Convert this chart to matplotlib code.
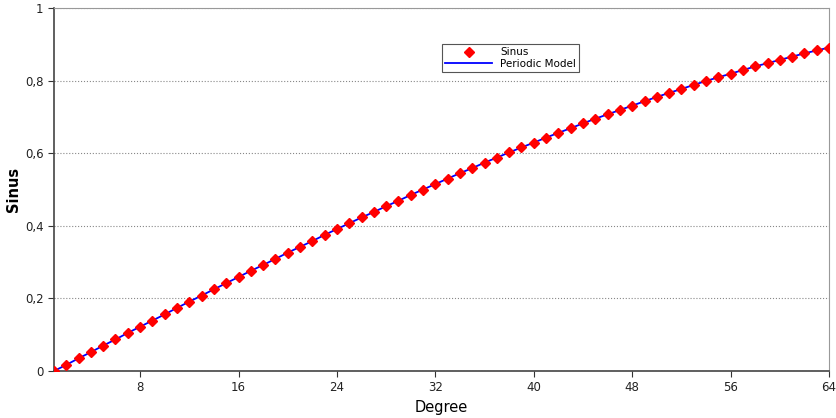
import numpy as np
import matplotlib.pyplot as plt

# categorias 1..64 y valores
grados = list(range(1, 65))
sinus = [0.000, 0.017, 0.035, 0.052, 0.070, 0.087, 0.105, 0.122, 0.139, 0.156,
         0.174, 0.191, 0.208, 0.225, 0.242, 0.259, 0.276, 0.292, 0.309, 0.326,
         0.342, 0.358, 0.375, 0.391, 0.407, 0.423, 0.438, 0.454, 0.469, 0.485,
         0.500, 0.515, 0.530, 0.545, 0.559, 0.574, 0.588, 0.602, 0.616, 0.629,
         0.643, 0.656, 0.669, 0.682, 0.695, 0.707, 0.719, 0.731, 0.743, 0.755,
         0.766, 0.777, 0.788, 0.799, 0.809, 0.819, 0.829, 0.839, 0.848, 0.857,
         0.866, 0.875, 0.883, 0.891]
xticks = [8, 16, 24, 32, 40, 48, 56, 64]
yticks = [0, 0.2, 0.4, 0.6, 0.8, 1]
ytick_labels = ['0', '0,2', '0,4', '0,6', '0,8', '1']

fig = plt.figure(figsize=(8.37, 4.18), dpi=100)
ax = fig.add_axes([0.0645, 0.1124, 0.926, 0.8685])

ax.plot(grados, sinus, color='blue', linewidth=1.3, label='Periodic Model', zorder=2)
ax.plot(grados, sinus, linestyle='none', marker='D', markersize=5,
        color='red', label='Sinus', zorder=3)

ax.set_xlim(1, 64)
ax.set_ylim(0, 1)
ax.set_xticks(xticks)
ax.set_yticks(yticks)
ax.set_yticklabels(ytick_labels)
ax.tick_params(labelsize=8.5, length=4, color='#333333', labelcolor='#222222')
ax.yaxis.grid(True, linestyle=':', color='#888888', linewidth=0.8)
ax.set_axisbelow(True)

for s in ['top', 'right']:
    ax.spines[s].set_color('#999999')
for s in ['left', 'bottom']:
    ax.spines[s].set_color('#444444')
    ax.spines[s].set_linewidth(1.2)

ax.set_xlabel('Degree', fontsize=10.5, labelpad=4)
ax.set_ylabel('Sinus', fontsize=10.5, fontweight='bold', labelpad=3)

h, l = ax.get_legend_handles_labels()
leg = ax.legend([h[1], h[0]], [l[1], l[0]], loc='upper left',
                bbox_to_anchor=(0.494, 0.915), fontsize=7.5, fancybox=False,
                edgecolor='#555555', framealpha=1, handlelength=4.5, borderpad=0.3,
                labelspacing=0.15)
leg.get_frame().set_linewidth(0.8)

fig.savefig('out.png', dpi=100)
